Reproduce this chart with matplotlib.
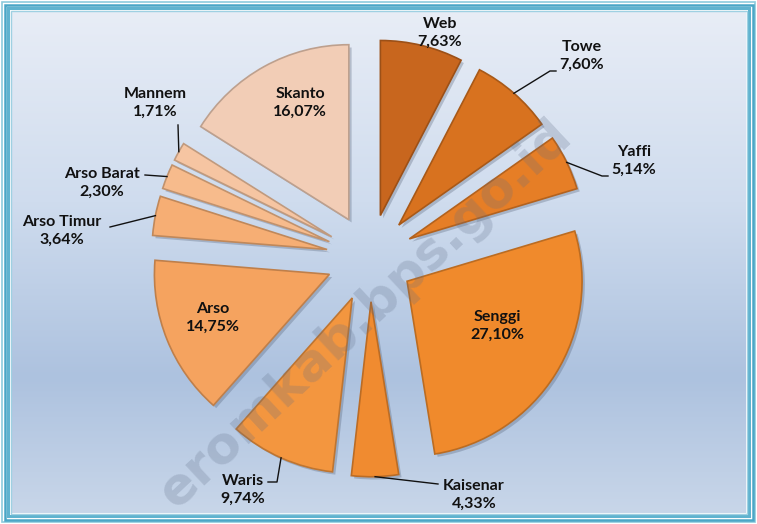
import numpy as np
import matplotlib.pyplot as plt
from matplotlib.patches import Rectangle
from matplotlib.colors import LinearSegmentedColormap, to_rgb
import matplotlib.patheffects as pe

# persentase per distrik, searah jarum jam mulai dari jam 12
distrik = ["Web", "Towe", "Yaffi", "Senggi", "Kaisenar", "Waris", "Arso",
           "Arso Timur", "Arso Barat", "Mannem", "Skanto"]
persen = [7.63, 7.60, 5.14, 27.10, 4.33, 9.74, 14.75, 3.64, 2.30, 1.71, 16.07]
warna = ["#c8661e", "#d8721f", "#e67e26", "#f08a2c", "#f08b30", "#f3963f",
         "#f5a35f", "#f6ae74", "#f7bb8c", "#f6c5a2", "#f2cdb6"]

W, H = 757, 524
cx, cy, R = 370, H - 258, 175
geser = 0.25  # potongan ditarik keluar 1/4 jari-jari

# posisi label (pixel gambar, y ke bawah) dan titik belok garis penunjuk
label_pos = {
    "Web": (440, 33), "Towe": (582, 56), "Yaffi": (634, 161),
    "Senggi": (497, 326), "Kaisenar": (474, 495), "Waris": (243, 490),
    "Arso": (213, 318), "Arso Timur": (62, 231), "Arso Barat": (102, 183),
    "Mannem": (155, 103), "Skanto": (300, 103),
}
leader_path = {
    "Towe": [(550, 71), (556, 71)],
    "Yaffi": [(602, 176), (608, 176)],
    "Kaisenar": [(438, 484)],
    "Waris": [(277, 482), (268, 482)],
    "Arso Timur": [(110, 227)],
    "Arso Barat": [(145, 175)],
    "Mannem": [(178, 125)],
}

fig = plt.figure(figsize=(W / 100, H / 100), dpi=100)
ax = fig.add_axes([0, 0, 1, 1])

# latar gradasi biru
bg_cmap = LinearSegmentedColormap.from_list(
    "bg", [(0.0, "#c8d6e9"), (0.27, "#adc2df"), (0.62, "#cfdcee"), (1.0, "#e8edf6")])
grad = np.linspace(0, 1, 256).reshape(-1, 1)
ax.imshow(grad, cmap=bg_cmap, origin="lower", aspect="auto",
          extent=[11, W - 11, 11, H - 11], zorder=0)

# bingkai
for inset, lw, col in [(2, 1.2, "#8ccbdd"), (4.5, 1.8, "#4aa6c6"),
                       (8, 2.2, "#5fb3cf"), (10.5, 1.0, "#9fd0e2")]:
    ax.add_patch(Rectangle((inset, inset), W - 2 * inset, H - 2 * inset,
                           fill=False, lw=lw, ec=col, zorder=1))

# explode di pie() dalam satuan data, jadi dikali jari-jari
wedges, _ = ax.pie(persen, colors=warna, startangle=90, counterclock=False,
                   explode=[geser * R] * len(persen), radius=R, center=(cx, cy),
                   wedgeprops=dict(linewidth=1.2))

for w, c in zip(wedges, warna):
    w.set_edgecolor(tuple(np.array(to_rgb(c)) * 0.78))
    w.set_zorder(2)
    w.set_path_effects([pe.SimplePatchShadow(offset=(2, -2), shadow_rgbFace="#4d5a70",
                                             alpha=0.3), pe.Normal()])

font = dict(family=["Lato", "DejaVu Sans"], fontsize=11.5, fontweight="bold",
            color="#111111")

for w, name, val in zip(wedges, distrik, persen):
    teks = name + "\n" + f"{val:.2f}".replace(".", ",") + "%"
    lx, ly = label_pos[name]
    ax.text(lx, H - ly, teks, ha="center", va="center", linespacing=1.3,
            zorder=5, **font)
    if name in leader_path:
        mid = np.deg2rad((w.theta1 + w.theta2) / 2)
        x0 = w.center[0] + w.r * np.cos(mid)
        y0 = w.center[1] + w.r * np.sin(mid)
        xs = [x0] + [p[0] for p in leader_path[name]]
        ys = [y0] + [H - p[1] for p in leader_path[name]]
        ax.plot(xs, ys, color="#111111", lw=1.0, zorder=4)

# watermark (bagian yang terlihat di gambar)
ax.text(366, H - 314, "eromkab.bps.go.id", rotation=43, rotation_mode="anchor",
        ha="center", va="center", fontsize=37, fontweight="bold",
        family="DejaVu Sans", color="#5f6d86", alpha=0.24, zorder=3)

ax.set_xlim(0, W)
ax.set_ylim(0, H)
ax.set_aspect("auto")
ax.set_axis_off()

fig.savefig("out.png", dpi=100)
